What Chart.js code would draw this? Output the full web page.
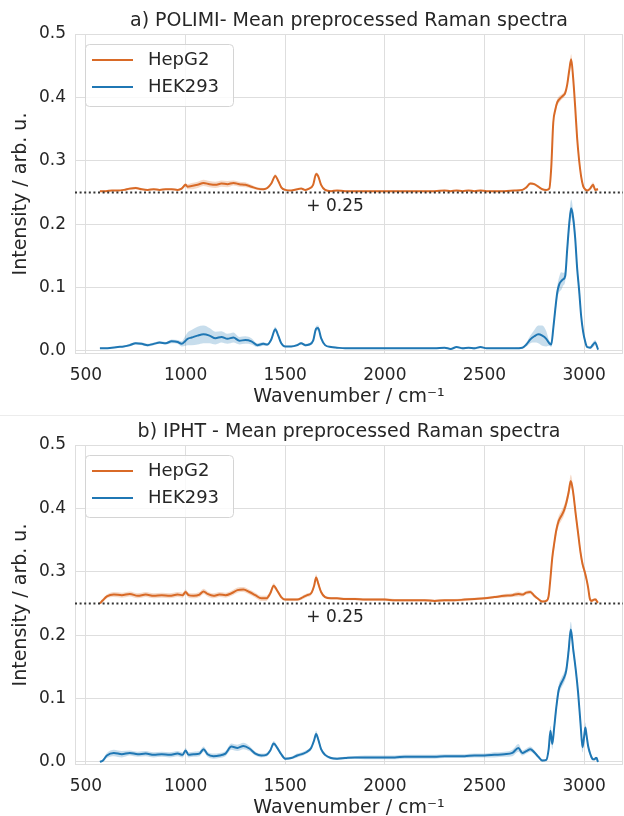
<!DOCTYPE html>
<html>
<head>
<meta charset="utf-8">
<script src="https://cdn.jsdelivr.net/npm/chart.js@4.4.1/dist/chart.umd.min.js"></script>
<style>
  body { margin: 0; background: #fff; }
  #wrap { position: relative; width: 624px; height: 816px; overflow: hidden; }
  canvas { position: absolute; left: 0; }
  #sep { position: absolute; left: 0; top: 415px; width: 624px; height: 1px; background: #ececec; }
</style>
</head>
<body>
<div id="wrap">
  <canvas id="chartA" width="624" height="408" style="top:0"></canvas>
  <div id="sep"></div>
  <canvas id="chartB" width="624" height="408" style="top:411px"></canvas>
</div>
<script>
// Ejes comunes
const xTicks = [500, 1000, 1500, 2000, 2500, 3000];
const yTicks = [0.0, 0.1, 0.2, 0.3, 0.4, 0.5];
const seriesNames = ['HepG2', 'HEK293'];
const offsetLevel = 0.25;          // HepG2 desplazado + 0.25
const offsetLabelAt = [1750, 0.227];

// a) POLIMI
const wavenumberA = [
  570, 600, 630, 660, 690, 720, 750, 780, 810, 840,
  870, 900, 930, 960, 980, 1000, 1010, 1030, 1060, 1090,
  1120, 1150, 1180, 1210, 1240, 1270, 1300, 1330, 1360, 1390,
  1410, 1430, 1450, 1465, 1480, 1500, 1530, 1560, 1580, 1600,
  1620, 1640, 1655, 1665, 1680, 1700, 1730, 1760, 1800, 1850,
  1900, 1950, 2000, 2050, 2100, 2150, 2200, 2250, 2300, 2330,
  2360, 2390, 2420, 2450, 2480, 2510, 2550, 2600, 2650, 2690,
  2710, 2730, 2750, 2770, 2790, 2810, 2825, 2835, 2845, 2855,
  2865, 2875, 2885, 2895, 2905, 2915, 2925, 2935, 2945, 2955,
  2965, 2975, 2985, 2995, 3005, 3015, 3030, 3045, 3055, 3070
];
const hepA = [
  0.252, 0.252, 0.253, 0.253, 0.254, 0.256, 0.257, 0.255, 0.254, 0.255,
  0.254, 0.255, 0.255, 0.254, 0.256, 0.262, 0.259, 0.260, 0.262, 0.265,
  0.263, 0.262, 0.264, 0.263, 0.265, 0.263, 0.262, 0.259, 0.256, 0.255,
  0.257, 0.264, 0.276, 0.268, 0.258, 0.254, 0.253, 0.255, 0.256, 0.254,
  0.256, 0.262, 0.279, 0.276, 0.262, 0.254, 0.252, 0.253, 0.252, 0.252,
  0.252, 0.252, 0.252, 0.252, 0.252, 0.252, 0.252, 0.252, 0.253, 0.252,
  0.253, 0.252, 0.253, 0.252, 0.253, 0.252, 0.252, 0.252, 0.253, 0.254,
  0.258, 0.264, 0.263, 0.259, 0.255, 0.254, 0.256, 0.290, 0.360, 0.380,
  0.392, 0.397, 0.400, 0.403, 0.407, 0.420, 0.442, 0.460, 0.430, 0.385,
  0.335, 0.300, 0.275, 0.260, 0.255, 0.253, 0.256, 0.262, 0.254, 0.255
];
const hepSdA = [
  0.001, 0.001, 0.001, 0.001, 0.001, 0.002, 0.002, 0.001, 0.001, 0.001,
  0.001, 0.001, 0.001, 0.001, 0.002, 0.003, 0.004, 0.005, 0.005, 0.005,
  0.005, 0.005, 0.005, 0.005, 0.004, 0.004, 0.004, 0.003, 0.002, 0.002,
  0.002, 0.002, 0.003, 0.002, 0.002, 0.001, 0.001, 0.001, 0.001, 0.001,
  0.001, 0.002, 0.003, 0.003, 0.002, 0.001, 0.001, 0.001, 0.001, 0.001,
  0.001, 0.001, 0.001, 0.001, 0.001, 0.001, 0.001, 0.001, 0.001, 0.001,
  0.001, 0.001, 0.001, 0.001, 0.001, 0.001, 0.001, 0.001, 0.001, 0.001,
  0.001, 0.002, 0.002, 0.002, 0.001, 0.001, 0.002, 0.004, 0.005, 0.005,
  0.005, 0.005, 0.004, 0.004, 0.004, 0.005, 0.006, 0.008, 0.006, 0.005,
  0.004, 0.004, 0.003, 0.003, 0.002, 0.002, 0.003, 0.004, 0.003, 0.002
];
const hekA = [
  0.004, 0.004, 0.005, 0.006, 0.007, 0.009, 0.012, 0.011, 0.009, 0.011,
  0.013, 0.012, 0.015, 0.014, 0.011, 0.016, 0.019, 0.021, 0.024, 0.026,
  0.024, 0.020, 0.022, 0.019, 0.021, 0.016, 0.017, 0.015, 0.009, 0.011,
  0.010, 0.018, 0.034, 0.024, 0.012, 0.007, 0.007, 0.009, 0.012, 0.009,
  0.010, 0.016, 0.035, 0.036, 0.020, 0.009, 0.006, 0.005, 0.004, 0.004,
  0.004, 0.004, 0.004, 0.004, 0.004, 0.004, 0.004, 0.004, 0.005, 0.003,
  0.006, 0.004, 0.005, 0.004, 0.006, 0.004, 0.004, 0.004, 0.004, 0.005,
  0.010, 0.018, 0.023, 0.026, 0.024, 0.019, 0.012, 0.010, 0.035, 0.065,
  0.092, 0.105, 0.110, 0.113, 0.118, 0.160, 0.200, 0.225, 0.210, 0.178,
  0.130, 0.095, 0.055, 0.030, 0.015, 0.006, 0.005, 0.010, 0.013, 0.002
];
const hekSdA = [
  0.001, 0.001, 0.001, 0.001, 0.001, 0.002, 0.002, 0.002, 0.002, 0.002,
  0.002, 0.002, 0.003, 0.003, 0.004, 0.008, 0.010, 0.012, 0.014, 0.014,
  0.012, 0.010, 0.009, 0.008, 0.008, 0.006, 0.006, 0.005, 0.003, 0.003,
  0.002, 0.003, 0.004, 0.003, 0.002, 0.001, 0.001, 0.002, 0.002, 0.002,
  0.002, 0.003, 0.004, 0.004, 0.003, 0.001, 0.001, 0.001, 0.001, 0.001,
  0.001, 0.001, 0.001, 0.001, 0.001, 0.001, 0.001, 0.001, 0.001, 0.001,
  0.001, 0.002, 0.001, 0.002, 0.001, 0.001, 0.001, 0.001, 0.001, 0.001,
  0.003, 0.006, 0.010, 0.014, 0.016, 0.012, 0.004, 0.004, 0.006, 0.008,
  0.010, 0.012, 0.014, 0.010, 0.008, 0.010, 0.012, 0.014, 0.012, 0.010,
  0.008, 0.006, 0.005, 0.004, 0.003, 0.002, 0.002, 0.004, 0.004, 0.002
];

// b) IPHT
const wavenumberB = [
  570, 585, 605, 640, 680, 720, 760, 800, 840, 880,
  920, 960, 985, 1000, 1015, 1040, 1070, 1090, 1110, 1140,
  1170, 1200, 1230, 1260, 1290, 1320, 1350, 1380, 1405, 1425,
  1442, 1460, 1480, 1500, 1530, 1560, 1590, 1610, 1630, 1645,
  1655, 1665, 1680, 1700, 1730, 1760, 1800, 1850, 1900, 1950,
  2000, 2050, 2100, 2150, 2200, 2250, 2300, 2350, 2400, 2450,
  2500, 2550, 2600, 2640, 2670, 2690, 2710, 2730, 2750, 2770,
  2790, 2810, 2822, 2831, 2840, 2850, 2860, 2872, 2885, 2898,
  2910, 2922, 2933, 2945, 2958, 2970, 2982, 2992, 3000, 3006,
  3012, 3020, 3028, 3036, 3044, 3052, 3058, 3063, 3067, 3070
];
const hepB = [
  0.250, 0.255, 0.261, 0.264, 0.263, 0.265, 0.262, 0.264, 0.262, 0.263,
  0.262, 0.264, 0.263, 0.268, 0.263, 0.262, 0.264, 0.269, 0.265, 0.262,
  0.264, 0.263, 0.266, 0.271, 0.272, 0.268, 0.263, 0.258, 0.258, 0.266,
  0.278, 0.270, 0.260, 0.256, 0.256, 0.256, 0.260, 0.263, 0.266, 0.278,
  0.291, 0.282, 0.268, 0.260, 0.258, 0.258, 0.257, 0.257, 0.256, 0.256,
  0.256, 0.255, 0.255, 0.255, 0.255, 0.254, 0.255, 0.255, 0.256, 0.257,
  0.258, 0.260, 0.262, 0.263, 0.265, 0.264, 0.267, 0.268, 0.262, 0.257,
  0.253, 0.254, 0.262, 0.290, 0.322, 0.345, 0.365, 0.380, 0.388, 0.396,
  0.408, 0.425, 0.443, 0.425, 0.390, 0.360, 0.330, 0.312, 0.303, 0.296,
  0.288, 0.275, 0.258, 0.254, 0.255, 0.256, 0.256, 0.254, 0.252, 0.251
];
const hepSdB = [
  0.002, 0.003, 0.003, 0.004, 0.004, 0.004, 0.004, 0.004, 0.004, 0.004,
  0.004, 0.004, 0.004, 0.004, 0.004, 0.004, 0.004, 0.004, 0.004, 0.004,
  0.004, 0.004, 0.004, 0.004, 0.004, 0.004, 0.004, 0.004, 0.004, 0.004,
  0.004, 0.003, 0.003, 0.002, 0.002, 0.002, 0.003, 0.003, 0.003, 0.004,
  0.005, 0.004, 0.003, 0.002, 0.002, 0.002, 0.002, 0.002, 0.002, 0.002,
  0.002, 0.002, 0.002, 0.002, 0.002, 0.002, 0.002, 0.002, 0.002, 0.002,
  0.002, 0.002, 0.003, 0.003, 0.004, 0.003, 0.003, 0.003, 0.003, 0.002,
  0.002, 0.002, 0.003, 0.005, 0.007, 0.008, 0.008, 0.008, 0.008, 0.008,
  0.008, 0.008, 0.010, 0.008, 0.008, 0.008, 0.007, 0.006, 0.006, 0.006,
  0.005, 0.005, 0.004, 0.003, 0.002, 0.002, 0.002, 0.002, 0.002, 0.002
];
const hekB = [
  0.000, 0.002, 0.010, 0.014, 0.012, 0.014, 0.012, 0.013, 0.011, 0.012,
  0.011, 0.013, 0.011, 0.018, 0.011, 0.012, 0.013, 0.020, 0.012, 0.009,
  0.010, 0.013, 0.024, 0.022, 0.025, 0.021, 0.013, 0.010, 0.011, 0.018,
  0.029, 0.022, 0.012, 0.005, 0.006, 0.010, 0.013, 0.016, 0.022, 0.034,
  0.044, 0.036, 0.020, 0.011, 0.006, 0.005, 0.006, 0.007, 0.007, 0.007,
  0.007, 0.007, 0.008, 0.008, 0.008, 0.008, 0.009, 0.009, 0.009, 0.010,
  0.010, 0.011, 0.012, 0.014, 0.022, 0.014, 0.017, 0.020, 0.015, 0.008,
  0.002, 0.003, 0.020, 0.049, 0.028, 0.055, 0.085, 0.113, 0.124, 0.132,
  0.144, 0.175, 0.209, 0.178, 0.145, 0.108, 0.060, 0.023, 0.040, 0.054,
  0.042, 0.025, 0.015, 0.008, 0.004, 0.004, 0.006, 0.006, 0.002, 0.000
];
const hekSdB = [
  0.001, 0.002, 0.004, 0.005, 0.005, 0.004, 0.004, 0.004, 0.004, 0.004,
  0.004, 0.004, 0.004, 0.004, 0.004, 0.004, 0.004, 0.004, 0.004, 0.004,
  0.004, 0.004, 0.005, 0.005, 0.005, 0.004, 0.003, 0.003, 0.003, 0.003,
  0.004, 0.003, 0.003, 0.002, 0.002, 0.003, 0.003, 0.003, 0.003, 0.004,
  0.005, 0.004, 0.003, 0.002, 0.002, 0.002, 0.002, 0.002, 0.003, 0.003,
  0.003, 0.003, 0.003, 0.003, 0.003, 0.003, 0.003, 0.003, 0.003, 0.003,
  0.003, 0.004, 0.004, 0.005, 0.006, 0.004, 0.004, 0.004, 0.003, 0.002,
  0.002, 0.002, 0.004, 0.008, 0.008, 0.008, 0.008, 0.008, 0.008, 0.008,
  0.008, 0.010, 0.012, 0.010, 0.008, 0.008, 0.008, 0.008, 0.008, 0.008,
  0.006, 0.005, 0.004, 0.003, 0.002, 0.002, 0.002, 0.002, 0.002, 0.002
];

const naranja = '#d96a27';
const naranjaBanda = 'rgba(217, 106, 39, 0.25)';
const azul = '#1f77b4';
const azulBanda = 'rgba(31, 119, 180, 0.25)';
const texto = '#262626';
const rejilla = '#dedede';

Chart.defaults.font.family = '"DejaVu Sans", sans-serif';
Chart.defaults.color = texto;

// Marco de los ejes (los cuatro lados)
const marco = {
    id: 'marco',
    beforeDatasetsDraw(chart) {
        const { ctx, chartArea: a } = chart;
        ctx.save();
        ctx.strokeStyle = rejilla;
        ctx.lineWidth = 1;
        ctx.strokeRect(a.left + 0.5, a.top + 0.5, a.right - a.left - 1, a.bottom - a.top - 1);
        ctx.restore();
    }
};

// Linea punteada del desplazamiento y su etiqueta
const desplazamiento = {
    id: 'desplazamiento',
    afterDatasetsDraw(chart) {
        const { ctx, chartArea: a, scales: { x, y } } = chart;
        const yy = Math.round(y.getPixelForValue(offsetLevel)) + 0.5;
        ctx.save();
        ctx.setLineDash([2, 2.6]);
        ctx.strokeStyle = '#333333';
        ctx.lineWidth = 2;
        ctx.beginPath();
        ctx.moveTo(a.left, yy);
        ctx.lineTo(a.right, yy);
        ctx.stroke();
        ctx.setLineDash([]);
        ctx.fillStyle = texto;
        ctx.font = '17px "DejaVu Sans"';
        ctx.textAlign = 'center';
        ctx.textBaseline = 'middle';
        ctx.fillText('+ 0.25', x.getPixelForValue(offsetLabelAt[0]), y.getPixelForValue(offsetLabelAt[1]));
        ctx.restore();
    }
};

// Leyenda con recuadro, estilo matplotlib
const leyenda = {
    id: 'leyenda',
    afterDraw(chart) {
        const { ctx, chartArea: a } = chart;
        const items = chart.data.datasets.filter(d => d.label);
        const x0 = a.left + 10, y0 = a.top + 10;
        ctx.save();
        ctx.beginPath();
        ctx.roundRect(x0 + 0.5, y0 + 0.5, 148, 62, 4);
        ctx.fillStyle = 'rgba(255,255,255,0.8)';
        ctx.fill();
        ctx.strokeStyle = '#d4d4d4';
        ctx.lineWidth = 1;
        ctx.stroke();
        ctx.font = '18px "DejaVu Sans"';
        ctx.textBaseline = 'middle';
        items.forEach((d, i) => {
            const yy = y0 + 16 + i * 27;
            ctx.strokeStyle = d.borderColor;
            ctx.lineWidth = 2.2;
            ctx.beginPath();
            ctx.moveTo(x0 + 7, yy);
            ctx.lineTo(x0 + 48, yy);
            ctx.stroke();
            ctx.fillStyle = texto;
            ctx.fillText(d.label, x0 + 63, yy);
        });
        ctx.restore();
    }
};

function puntos(xs, ys) {
    return xs.map((x, i) => ({ x: x, y: ys[i] }));
}

function banda(xs, ys, sd, signo) {
    return xs.map((x, i) => ({ x: x, y: ys[i] + signo * sd[i] }));
}

function crearGrafica(id, titulo, xs, hep, hepSd, hek, hekSd) {
    const base = { pointRadius: 0, borderWidth: 0, cubicInterpolationMode: 'monotone' };
    const ctx = document.getElementById(id).getContext('2d');
    return new Chart(ctx, {
        type: 'line',
        data: {
            datasets: [
                { ...base, data: banda(xs, hep, hepSd, -1), fill: false },
                { ...base, data: banda(xs, hep, hepSd, 1), fill: '-1', backgroundColor: naranjaBanda },
                { ...base, label: seriesNames[0], data: puntos(xs, hep), borderColor: naranja, borderWidth: 2, fill: false },
                { ...base, data: banda(xs, hek, hekSd, -1), fill: false },
                { ...base, data: banda(xs, hek, hekSd, 1), fill: '-1', backgroundColor: azulBanda },
                { ...base, label: seriesNames[1], data: puntos(xs, hek), borderColor: azul, borderWidth: 2, fill: false }
            ]
        },
        options: {
            responsive: false,
            animation: false,
            devicePixelRatio: 1,
            layout: { padding: { left: 0, right: 1, top: 0, bottom: 0 } },
            plugins: {
                legend: { display: false },
                tooltip: { enabled: false },
                title: {
                    display: true,
                    text: titulo,
                    fullSize: false,
                    color: texto,
                    font: { size: 19, weight: 'normal', lineHeight: 1.2 },
                    padding: { top: 9.6, bottom: 1.6 }
                }
            },
            scales: {
                x: {
                    type: 'linear',
                    min: 445,
                    max: 3195,
                    afterBuildTicks: s => { s.ticks = xTicks.map(v => ({ value: v })); },
                    afterFit: s => { s.height = 54; },
                    ticks: { font: { size: 17 }, color: texto, padding: 11, callback: v => String(v), maxRotation: 0 },
                    grid: { color: rejilla, drawTicks: false },
                    border: { display: false },
                    title: {
                        display: true,
                        text: 'Wavenumber / cm\u207B\u00B9',
                        color: texto,
                        font: { size: 19, lineHeight: 1.2 },
                        padding: { top: 0, bottom: 0 }
                    }
                },
                y: {
                    min: -0.005,
                    max: 0.5,
                    afterBuildTicks: s => { s.ticks = yTicks.map(v => ({ value: v })); },
                    afterFit: s => { s.width = 75; },
                    ticks: { font: { size: 17 }, color: texto, padding: 9, callback: v => v.toFixed(1) },
                    grid: { color: rejilla, drawTicks: false },
                    border: { display: false },
                    title: {
                        display: true,
                        text: 'Intensity / arb. u.',
                        color: texto,
                        font: { size: 19, lineHeight: 1.2 },
                        padding: { top: 10, bottom: 0 }
                    }
                }
            }
        },
        plugins: [marco, desplazamiento, leyenda]
    });
}

crearGrafica('chartA', 'a) POLIMI- Mean preprocessed Raman spectra', wavenumberA, hepA, hepSdA, hekA, hekSdA);
crearGrafica('chartB', 'b) IPHT - Mean preprocessed Raman spectra', wavenumberB, hepB, hepSdB, hekB, hekSdB);
</script>
</body>
</html>
